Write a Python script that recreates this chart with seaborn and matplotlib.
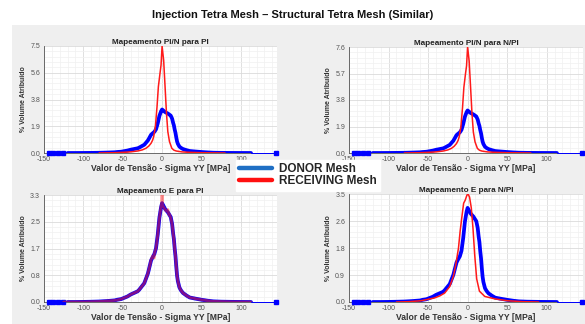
import numpy as np
import pandas as pd
import matplotlib
matplotlib.use("Agg")
import matplotlib.pyplot as plt
from matplotlib.patches import Rectangle
from matplotlib.lines import Line2D
import seaborn as sns

sns.set_style("white")
plt.rcParams['font.family'] = ['Liberation Sans', 'DejaVu Sans']

# ---------------- data ----------------
suptitle = "Injection Tetra Mesh \u2013 Structural Tetra Mesh (Similar)"
titles = ["Mapeamento PI/N para PI", "Mapeamento PI/N para N/PI",
          "Mapeamento E para PI", "Mapeamento E para N/PI"]
xlabel = "Valor de Tens\u00e3o - Sigma YY [MPa]"
ylabel = "% Volume Atribu\u00eddo"
legend_labels = ["DONOR Mesh", "RECEIVING Mesh"]

xticks = [-150, -100, -50, 0, 50, 100]
ymax = [7.5, 7.6, 3.3, 3.5]
ytick_labels = [["0.0", "1.9", "3.8", "5.6", "7.5"],
                ["0.0", "1.9", "3.8", "5.7", "7.6"],
                ["0.0", "0.8", "1.7", "2.5", "3.3"],
                ["0.0", "0.9", "1.8", "2.6", "3.5"]]

# donor (blue) distribution
donor_x = [-120, -110, -100, -90, -80, -70, -60, -57, -52, -44, -40, -31, -29, -22.6,
           -18, -15, -14, -12, -9.8, -7.7, -5.5, -3.4, -1.3, 0, 1.5, 3.8, 5.5, 7.3,
           9.5, 11, 12.8, 14, 15, 16, 17, 18, 19, 20, 22, 24, 26.5, 31, 35, 41, 50,
           58, 65, 75, 90, 100, 113]
donor_y = [0.0, 0.0, 0.003, 0.008, 0.015, 0.03, 0.05, 0.07, 0.09, 0.17, 0.23, 0.33, 0.38, 0.58,
           0.88, 1.18, 1.28, 1.38, 1.48, 1.66, 2.08, 2.6, 2.92, 3.05, 2.98, 2.87, 2.82, 2.77,
           2.68, 2.62, 2.4, 2.12, 1.94, 1.65, 1.42, 1.1, 0.82, 0.65, 0.45, 0.36, 0.28, 0.2, 0.14, 0.11, 0.07,
           0.04, 0.02, 0.01, 0.004, 0.002, 0.0]
donor_tail_left = [-144, -138, -132, -126]
donor_tail_right = [113, 145]

# receiving (red) distributions, one per panel
recv_x_sharp = [-80, -60, -48, -40, -31, -25, -20.5, -17, -14, -12, -10.7, -8.5, -6.4, -4.7,
                -2.6, -1.3, 0, 2, 3.8, 5.6, 7.3, 9.4, 12.4, 15, 18, 25, 33, 50, 80]
recv_y_p1 = [0.0, 0.02, 0.05, 0.08, 0.14, 0.22, 0.33, 0.48, 0.68, 0.9, 1.14, 1.85, 3.25, 4.65,
             5.6, 6.17, 7.5, 6.5, 4.65, 2.78, 1.5, 0.8, 0.33, 0.2, 0.14, 0.08, 0.05, 0.02, 0.0]
recv_y_p2 = [0.0, 0.02, 0.05, 0.08, 0.14, 0.22, 0.33, 0.48, 0.68, 0.9, 1.14, 1.85, 3.25, 4.7,
             5.7, 6.25, 7.6, 6.6, 4.7, 2.8, 1.5, 0.8, 0.33, 0.2, 0.14, 0.08, 0.05, 0.02, 0.0]

recv_x_p3 = [-125, -100, -80, -60, -52, -44, -40, -31, -29, -22.6, -18, -15, -14, -12, -10,
             -9.8, -7.7, -5.5, -3.4, -1.3, -0.5, 0, 0.5, 1.5, 3.8, 5.5, 7.3, 8.5, 9.5, 11,
             12.8, 14, 15, 16, 17, 18, 19, 20, 22, 24, 26.5, 31, 35, 41, 50, 58, 65, 90, 113]
recv_y_p3 = [0.0, 0.003, 0.015, 0.05, 0.09, 0.17, 0.23, 0.33, 0.38, 0.58, 0.88, 1.18, 1.3, 1.42, 1.36,
             1.5, 1.66, 2.08, 2.6, 2.95, 3.05, 3.3, 3.0, 2.95, 2.85, 2.8, 2.85, 2.7, 2.7, 2.6,
             2.4, 2.12, 1.94, 1.65, 1.42, 1.1, 0.82, 0.65, 0.45, 0.36, 0.28, 0.2, 0.14, 0.11, 0.07, 0.04, 0.02, 0.004, 0.0]

recv_x_p4 = [-90, -75, -59, -42, -35, -29, -22.6, -18, -15, -11.5, -9.4, -7, -5, -3, -1, 0,
             1, 2.5, 4.7, 6.8, 9, 11.5, 15, 21.8, 34.6, 51, 70, 90]
recv_y_p4 = [0.0, 0.01, 0.04, 0.13, 0.2, 0.29, 0.5, 0.83, 1.2, 1.75, 2.3, 2.8, 3.2, 3.3, 3.45, 3.5,
             3.48, 3.4, 3.05, 2.4, 1.53, 0.75, 0.35, 0.18, 0.1, 0.04, 0.01, 0.0]

recv_x = [recv_x_sharp, recv_x_sharp, recv_x_p3, recv_x_p4]
recv_y = [recv_y_p1, recv_y_p2, recv_y_p3, recv_y_p4]

# ---------------- figure ----------------
W, H = 585, 324
fig = plt.figure(figsize=(W / 100, H / 100), dpi=100)
fig.patch.set_facecolor("white")
fig.patches.append(Rectangle((12 / W, 0), 1 - 12 / W, 1 - 25 / H, transform=fig.transFigure,
                             facecolor="#efefef", edgecolor="none", zorder=-10))

# axes boxes in pixels (left, top, right, bottom)
boxes = [(44, 46, 277, 153), (349, 47, 583, 153), (44, 195, 277, 302), (349, 194, 583, 302)]

BLUE = "#0000ff"
RED = "#ff1a1a"
for i, (l, t, r, b) in enumerate(boxes):
    ax = fig.add_axes([l / W, 1 - b / H, (r - l) / W, (b - t) / H])
    ax.set_facecolor("white")
    df_d = pd.DataFrame({"x": donor_x, "y": donor_y})
    df_r = pd.DataFrame({"x": recv_x[i], "y": recv_y[i]})
    sns.lineplot(data=df_d, x="x", y="y", ax=ax, color=BLUE, lw=2.7, sort=False,
                 estimator=None, zorder=3)
    ax.plot(donor_tail_left, [0] * len(donor_tail_left), ls="none", marker="s", ms=2.4,
            color=BLUE, zorder=3, clip_on=False)
    ax.plot(donor_tail_right, [0] * len(donor_tail_right), ls="-", lw=0.7, color=BLUE, zorder=3,
            clip_on=False)
    ax.plot(donor_tail_right[-1:], [0], ls="none", marker="s", ms=2.4, color=BLUE, zorder=3,
            clip_on=False)
    if i == 2:
        sns.lineplot(data=df_r, x="x", y="y", ax=ax, color=RED, lw=2.0, alpha=0.5, sort=False,
                     estimator=None, zorder=4)
    else:
        sns.lineplot(data=df_r, x="x", y="y", ax=ax, color=RED, lw=1.1, sort=False,
                     estimator=None, zorder=4)

    ax.set_xlim(-150, 146)
    ax.set_ylim(0, ymax[i])
    ax.set_xticks(xticks)
    ax.set_xticklabels([str(v) for v in xticks])
    yt = np.linspace(0, ymax[i], 5)
    ax.set_yticks(yt)
    ax.set_yticklabels(ytick_labels[i])
    ax.set_xticks(np.arange(-150, 146, 10), minor=True)
    ax.set_yticks(np.linspace(0, ymax[i], 21), minor=True)
    ax.grid(True, which="major", color="#dadada", lw=0.6, zorder=0)
    ax.grid(True, which="minor", color="#f0f0f0", lw=0.5, zorder=0)
    ax.set_axisbelow(True)
    for s in ["top", "right"]:
        ax.spines[s].set_visible(False)
    for s in ["left", "bottom"]:
        ax.spines[s].set_color("#555555")
        ax.spines[s].set_linewidth(0.6)
    ax.tick_params(which="major", direction="in", length=2.5, width=0.5, colors="#555555",
                   labelsize=5)
    ax.tick_params(axis="x", which="major", pad=2.2)
    ax.tick_params(axis="y", which="major", pad=2.8)
    ax.tick_params(which="minor", length=0)
    ax.set_title(titles[i], fontsize=5.9, fontweight="bold", pad=1.5, color="#222222")
    ax.set_xlabel(xlabel, fontsize=6.2, fontweight="bold", labelpad=0.5, color="#333333")
    ax.set_ylabel(ylabel, fontsize=5.0, fontweight="bold", labelpad=2.5, color="#333333")

fig.text(0.5, 1 - 15 / H, suptitle, ha="center", va="center", fontsize=8.0, fontweight="bold",
         color="#111111")

handles = [Line2D([0], [0], color="#1f6fc4", lw=3.2), Line2D([0], [0], color="#ff1010", lw=3.2)]
leg = fig.legend(handles, legend_labels, loc="center", bbox_to_anchor=(308 / W, 1 - 175.5 / H),
                 frameon=True, fancybox=False, facecolor="white", edgecolor="white", framealpha=1,
                 prop={"weight": "bold", "size": 8.5}, handlelength=2.8, handletextpad=0.6,
                 labelspacing=0.0, borderpad=0.3)
leg.set_zorder(10)

fig.savefig("out.png", dpi=100)
